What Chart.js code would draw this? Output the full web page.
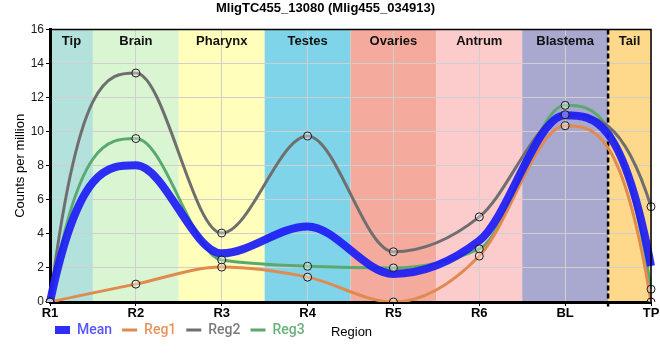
<!DOCTYPE html>
<html>
<head>
<meta charset="utf-8">
<script src="https://cdn.jsdelivr.net/npm/chart.js@4/dist/chart.umd.min.js"></script>
<style>
  body { margin: 0; background: #fff; }
  #wrap { width: 660px; height: 360px; }
</style>
</head>
<body>
<div id="wrap"><canvas id="myChart"></canvas></div>
<script>
// samples along the worm
const samples = ['R1', 'R2', 'R3', 'R4', 'R5', 'R6', 'BL', 'TP'];

// expression, counts per million
const meanVals = [0, 8.03, 2.86, 4.44, 1.65, 3.6, 10.97, 2.12];
const reg1Vals = [0, 1.05, 2.05, 1.46, 0, 2.7, 10.35, 0];
const reg2Vals = [0, 13.45, 4.05, 9.75, 2.95, 5.0, 11.0, 5.6];
const reg3Vals = [0, 9.6, 2.47, 2.1, 2.0, 3.12, 11.55, 0.75];

// body regions shaded behind the lines (start/end in sample index units)
const regionNames = ['Tip', 'Brain', 'Pharynx', 'Testes', 'Ovaries', 'Antrum', 'Blastema', 'Tail'];
const regionStart = [0, 0.5, 1.5, 2.5, 3.5, 4.5, 5.5, 6.5];
const regionEnd = [0.5, 1.5, 2.5, 3.5, 4.5, 5.5, 6.5, 7];
const regionColors = ['#b3e2dc', '#d9f5d1', '#ffffbb', '#80d4ea', '#f4aa9c', '#fccbcb', '#a9a8cf', '#fed98c'];

const colMean = 'rgba(28, 28, 245, 0.92)';
const colReg1 = '#e08a4f';
const colReg2 = '#6f6f6f';
const colReg3 = '#5aa96f';

// end tangent so the neighbouring point has no curvature, kept monotone
function endTangent(s, tNext) {
  let t = 3 * s - 2 * tNext;
  if (Math.sign(t) !== Math.sign(s)) t = 0;
  if (Math.abs(t) > 3 * Math.abs(s)) t = 3 * s;
  return t;
}

const regionPlugin = {
  id: 'regions',
  afterLayout(chart) {
    // legend sits on the same row as the axis title
    chart.legend.left = 45;
    chart.legend.top = 313;
  },
  beforeDraw(chart) {
    const { ctx, chartArea: a, scales: { x } } = chart;
    ctx.save();
    for (let i = 0; i < regionNames.length; i++) {
      const x0 = x.getPixelForValue(regionStart[i]);
      const x1 = x.getPixelForValue(regionEnd[i]);
      ctx.fillStyle = regionColors[i];
      ctx.fillRect(x0, a.top, x1 - x0, a.bottom - a.top);
    }
    ctx.restore();
  },
  beforeDatasetsDraw(chart) {
    const { ctx, chartArea: a, scales: { x } } = chart;
    ctx.save();
    ctx.font = 'bold 13px "Liberation Sans", Arial, sans-serif';
    ctx.fillStyle = '#111';
    ctx.textAlign = 'center';
    ctx.textBaseline = 'middle';
    for (let i = 0; i < regionNames.length; i++) {
      const cx = (x.getPixelForValue(regionStart[i]) + x.getPixelForValue(regionEnd[i])) / 2;
      ctx.fillText(regionNames[i], cx, a.top + 12);
    }
    // dashed border between blastema and tail
    const xd = x.getPixelForValue(6.5);
    ctx.strokeStyle = '#000';
    ctx.lineWidth = 2.5;
    ctx.setLineDash([5, 3]);
    ctx.beginPath();
    ctx.moveTo(xd, a.top);
    ctx.lineTo(xd, a.bottom + 5);
    ctx.stroke();
    ctx.restore();
  },
  beforeDatasetDraw(chart, args) {
    // monotone tangents with steeper ends
    const meta = args.meta;
    if (!meta.dataset || meta.dataset.options.showLine === false) return;
    meta.dataset.updateControlPoints(chart.chartArea, meta.iAxis);
    const pts = meta.data;
    const n = pts.length;
    const t = new Array(n).fill(0);
    for (let i = 1; i < n - 1; i++) {
      const h0 = pts[i].x - pts[i - 1].x, h1 = pts[i + 1].x - pts[i].x;
      const s0 = (pts[i].y - pts[i - 1].y) / h0, s1 = (pts[i + 1].y - pts[i].y) / h1;
      const p = (s0 * h1 + s1 * h0) / (h0 + h1);
      t[i] = (Math.sign(s0) + Math.sign(s1)) * Math.min(Math.abs(s0), Math.abs(s1), 0.5 * Math.abs(p)) || 0;
    }
    t[0] = endTangent((pts[1].y - pts[0].y) / (pts[1].x - pts[0].x), t[1]);
    t[n - 1] = endTangent((pts[n - 1].y - pts[n - 2].y) / (pts[n - 1].x - pts[n - 2].x), t[n - 2]);
    for (let i = 0; i < n; i++) {
      const p = pts[i];
      if (i > 0) {
        const d = (p.x - pts[i - 1].x) / 3;
        p.cp1x = p.x - d; p.cp1y = p.y - d * t[i];
      }
      if (i < n - 1) {
        const d = (pts[i + 1].x - p.x) / 3;
        p.cp2x = p.x + d; p.cp2y = p.y + d * t[i];
      }
    }
  },
  afterDraw(chart) {
    const { ctx, chartArea: a } = chart;
    ctx.save();
    ctx.strokeStyle = '#000';
    ctx.lineWidth = 1.5;
    ctx.beginPath();
    ctx.moveTo(a.left, a.top);
    ctx.lineTo(a.right, a.top);
    ctx.lineTo(a.right, a.bottom);
    ctx.stroke();
    ctx.font = '13px "Liberation Sans", Arial, sans-serif';
    ctx.fillStyle = '#000';
    ctx.textAlign = 'center';
    ctx.textBaseline = 'middle';
    ctx.fillText('Region', (a.left + a.right) / 2 + 1, 332);
    ctx.restore();
  }
};

function pointSet(vals) {
  return {
    data: vals,
    showLine: false,
    pointRadius: 4,
    pointBorderWidth: 1,
    pointBorderColor: '#1a1a1a',
    pointBackgroundColor: 'rgba(255,255,255,0.35)',
    legendSkip: true
  };
}

function lineSet(label, vals, color, width, textColor) {
  return {
    label: label,
    data: vals,
    borderColor: color,
    backgroundColor: color,
    borderWidth: width,
    pointRadius: 0,
    cubicInterpolationMode: 'monotone',
    textColor: textColor
  };
}

const ctx = document.getElementById('myChart').getContext('2d');
const myChart = new Chart(ctx, {
  type: 'line',
  data: {
    labels: samples,
    datasets: [
      pointSet(reg1Vals),
      pointSet(reg2Vals),
      pointSet(reg3Vals),
      lineSet('Mean', meanVals, colMean, 8, '#5656ff'),
      lineSet('Reg1', reg1Vals, colReg1, 3, '#e8935c'),
      lineSet('Reg2', reg2Vals, colReg2, 3, '#7a7a7a'),
      lineSet('Reg3', reg3Vals, colReg3, 3, '#68b27c')
    ]
  },
  options: {
    responsive: true,
    maintainAspectRatio: false,
    animation: false,
    layout: { padding: { left: 0, right: 9, top: 0, bottom: 2 } },
    plugins: {
      title: {
        display: true,
        text: 'MligTC455_13080 (Mlig455_034913)',
        color: '#000',
        font: { family: '"Liberation Sans", Arial, sans-serif', size: 13, weight: 'bold' },
        padding: { top: 1, bottom: 13 }
      },
      legend: {
        position: 'bottom',
        align: 'start',
        labels: {
          usePointStyle: true,
          pointStyleWidth: 15,
          boxHeight: 8,
          padding: 10,
          font: { family: 'Roboto, "Liberation Sans", sans-serif', size: 14, weight: '500' },
          generateLabels(chart) {
            return chart.data.datasets
              .map((ds, i) => ({ ds, i }))
              .filter(o => !o.ds.legendSkip)
              .map(o => ({
                text: o.ds.label,
                fillStyle: o.ds.borderColor,
                strokeStyle: o.ds.borderColor,
                lineWidth: o.ds.borderWidth,
                pointStyle: 'line',
                fontColor: o.ds.textColor,
                hidden: false,
                datasetIndex: o.i
              }));
          }
        }
      },
      tooltip: { enabled: false }
    },
    scales: {
      x: {
        offset: false,
        grid: { color: '#cfcfcf', lineWidth: 1, tickLength: 4, tickColor: '#000', offset: false },
        border: { color: '#000', width: 3 },
        ticks: {
          color: '#000',
          padding: 0,
          font: { family: '"Liberation Sans", Arial, sans-serif', size: 13, weight: 'bold' }
        },
        afterFit(scale) { scale.height = 22; }
      },
      y: {
        min: 0,
        max: 16,
        grid: { color: '#cfcfcf', lineWidth: 1, tickLength: 4, tickColor: '#000' },
        border: { color: '#000', width: 3 },
        ticks: {
          stepSize: 2,
          color: '#1a1a1a',
          padding: 2,
          font: { family: '"Liberation Sans", Arial, sans-serif', size: 12 }
        },
        title: {
          display: true,
          text: 'Counts per million',
          color: '#000',
          padding: { top: 13, bottom: 0 },
          font: { family: '"Liberation Sans", Arial, sans-serif', size: 13 }
        },
        afterFit(scale) { scale.width = 50; }
      }
    }
  },
  plugins: [regionPlugin]
});
</script>
</body>
</html>
